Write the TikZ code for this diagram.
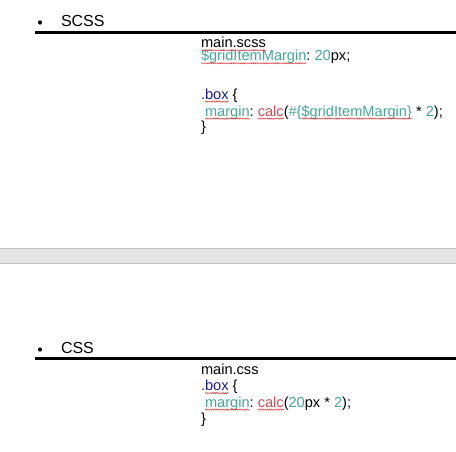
\documentclass[tikz,border=0pt]{standalone}
\usepackage{fontspec}
\setmainfont{Liberation Sans}
\usetikzlibrary{decorations.pathmorphing}
\definecolor{teal1}{HTML}{45A69B}
\definecolor{red1}{HTML}{CF4C55}
\definecolor{navy1}{HTML}{1C1C8C}
\definecolor{band}{HTML}{E6E6E6}
\definecolor{bandline}{HTML}{C4C4C4}
\definecolor{squigred}{HTML}{E03030}
\tikzset{
  code/.style={inner sep=0pt, outer sep=0pt, anchor=base west, font=\fontsize{14.6}{17}\selectfont, text=black},
  head/.style={inner sep=0pt, outer sep=0pt, anchor=base west, font=\fontsize{16}{19}\selectfont},
  tl/.style={code, text=teal1},
  rd/.style={code, text=red1},
  nv/.style={code, text=navy1},
  squig/.style={draw=squigred, line width=0.45pt, decorate, decoration={snake, amplitude=0.6pt, segment length=2.2pt}},
  rule/.style={line width=3pt, draw=black},
}
\newcommand{\sqline}[1]{\draw[squig] ([yshift=-2.6pt]#1.base west) -- ([yshift=-2.6pt]#1.base east);}
\newcommand{\spc}{\mbox{}\ \mbox{}}
\begin{document}
\begin{tikzpicture}[x=1pt, y=-1pt]
\useasboundingbox (0,0) rectangle (456,451);
\fill[white] (0,0) rectangle (456,451);

% ---------- SCSS heading ----------
\fill (40,22.5) circle (2.1);
\node[head] (hscss) at (61,26) {SCSS};
\coordinate (r1a) at (35,32);
\coordinate (r1b) at (456,32);
\draw[rule] (r1a) -- (r1b);

% line 1
\node[code] (s1) at (201,47.7) {main.scss};
% line 2
\node[tl] (s2a) at (201,60.7) {\$gridItemMargin};
\node[code] (s2b) at (s2a.base east) {:\spc};
\node[tl] (s2c) at (s2b.base east) {20};
\node[code] (s2d) at (s2c.base east) {px;};
% line 4
\node[nv] (s4a) at (201,99) {.};
\node[nv] (s4b) at (s4a.base east) {box};
\node[code] (s4c) at (s4b.base east) {\spc\{};
% line 5
\node[code] (s5a) at (201,116) {\spc};
\node[tl] (s5b) at (s5a.base east) {margin};
\node[code] (s5c) at (s5b.base east) {:\spc};
\node[rd] (s5d) at (s5c.base east) {calc};
\node[code] (s5e) at (s5d.base east) {(};
\node[tl] (s5f) at (s5e.base east) {\#\{};
\node[tl] (s5g) at (s5f.base east) {\$gridItemMargin\}};
\node[code] (s5h) at (s5g.base east) {\spc*\spc};
\node[tl] (s5i) at (s5h.base east) {2};
\node[code] (s5j) at (s5i.base east) {);};
% line 6
\node[code] (s6) at (201,131.5) {\}};

\sqline{s1}
\sqline{s2a}
\sqline{s4b}
\sqline{s5b}
\sqline{s5d}
\sqline{s5g}

% ---------- gray band ----------
\fill[band] (0,248.5) rectangle (456,263.5);
\coordinate (b1a) at (0,248.5);
\coordinate (b1b) at (456,248.5);
\coordinate (b2a) at (0,263.5);
\coordinate (b2b) at (456,263.5);
\draw[bandline, line width=1pt] (b1a) -- (b1b);
\draw[bandline, line width=1pt] (b2a) -- (b2b);

% ---------- CSS heading ----------
\fill (40,349.5) circle (2.1);
\node[head] (hcss) at (61,353.3) {CSS};
\coordinate (r2a) at (35,358.3);
\coordinate (r2b) at (456,358.3);
\draw[rule] (r2a) -- (r2b);

\node[code] (c1) at (201,374) {main.css};
\node[nv] (c2a) at (201,390.5) {.};
\node[nv] (c2b) at (c2a.base east) {box};
\node[code] (c2c) at (c2b.base east) {\spc\{};
\node[code] (c3a) at (201,407) {\spc};
\node[tl] (c3b) at (c3a.base east) {margin};
\node[code] (c3c) at (c3b.base east) {:\spc};
\node[rd] (c3d) at (c3c.base east) {calc};
\node[code] (c3e) at (c3d.base east) {(};
\node[tl] (c3f) at (c3e.base east) {20};
\node[code] (c3g) at (c3f.base east) {px\spc*\spc};
\node[tl] (c3h) at (c3g.base east) {2};
\node[code] (c3i) at (c3h.base east) {);};
\node[code] (c4) at (201,423) {\}};

\sqline{c2b}
\sqline{c3b}
\sqline{c3d}
\end{tikzpicture}
\end{document}
